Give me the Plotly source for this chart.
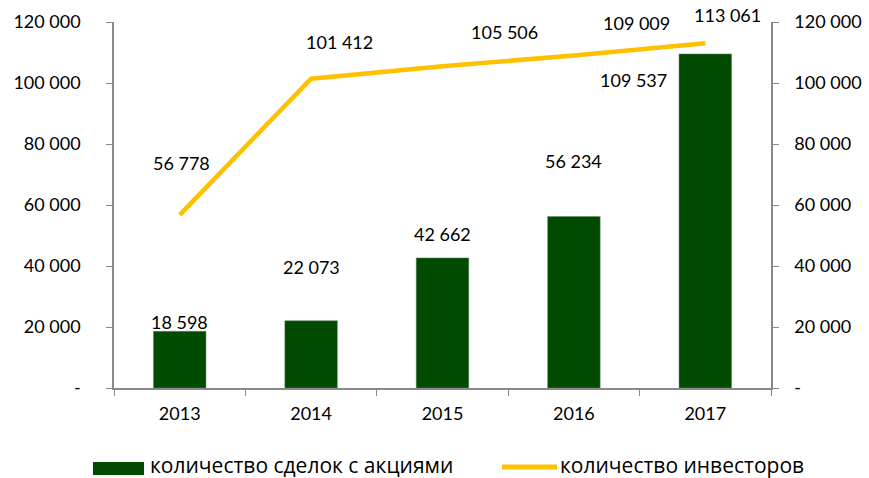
import plotly.graph_objects as go

years = ["2013", "2014", "2015", "2016", "2017"]
deals = [18598, 22073, 42662, 56234, 109537]
investors = [56778, 101412, 105506, 109009, 113061]
deal_labels = ["18 598", "22 073", "42 662", "56 234", "109 537"]
inv_labels = ["56 778", "101 412", "105 506", "109 009", "113 061"]
tick_vals = [0, 20000, 40000, 60000, 80000, 100000, 120000]
tick_text = ["-", "20 000", "40 000", "60 000", "80 000", "100 000", "120 000"]
names = ["количество сделок с акциями", "количество инвесторов"]

FONT = "Lato"
FS = 18
LEG_FONT = dict(size=21, family="Open Sans", color="black")
GREEN = "#004B00"
GOLD = "#FFC000"

fig = go.Figure()
fig.add_trace(go.Bar(x=years, y=deals, name=names[0],
                     marker=dict(color=GREEN, line=dict(color="#6a8a6a", width=0.5)),
                     width=0.4))
fig.add_trace(go.Scatter(x=years, y=investors, name=names[1], yaxis="y2",
                         mode="lines", line=dict(color=GOLD, width=4.5)))

# label offsets (pixels) to match reference placement
deal_shift = [(0, 9), (0, 54), (0, 24), (0, 55), (-72, -26)]
inv_shift = [(2, 52), (28, 37), (62, 34), (63, 33), (22, 28)]
for i in range(len(years)):
    fig.add_annotation(x=i, y=deals[i], text=deal_labels[i], showarrow=False,
                       xshift=deal_shift[i][0], yshift=deal_shift[i][1],
                       font=dict(size=FS, color="black", family=FONT), yref="y")
    fig.add_annotation(x=i, y=investors[i], text=inv_labels[i], showarrow=False,
                       xshift=inv_shift[i][0], yshift=inv_shift[i][1],
                       font=dict(size=FS, color="black", family=FONT), yref="y2")

# manual legend (wide swatches like the reference)
fig.add_shape(type="rect", xref="paper", yref="paper", x0=-0.032, x1=0.0457,
              y0=-0.2377, y1=-0.2022, fillcolor=GREEN, line=dict(width=0))
fig.add_annotation(xref="paper", yref="paper", x=0.0518, y=-0.2104, text=names[0],
                   showarrow=False, xanchor="left", yanchor="middle", font=LEG_FONT)
fig.add_shape(type="line", xref="paper", yref="paper", x0=0.5906, x1=0.6743,
              y0=-0.2158, y1=-0.2158, line=dict(color=GOLD, width=5))
fig.add_annotation(xref="paper", yref="paper", x=0.6758, y=-0.2104, text=names[1],
                   showarrow=False, xanchor="left", yanchor="middle", font=LEG_FONT)

axis_common = dict(range=[0, 120000], tickvals=tick_vals, ticktext=tick_text,
                   showgrid=False, zeroline=False, showline=True, linecolor="#898989",
                   linewidth=1.5, ticks="outside", ticklen=6, tickcolor="#898989",
                   tickfont=dict(size=FS, color="black", family=FONT), automargin=False)
fig.update_layout(
    width=869, height=478,
    margin=dict(l=114, r=98, t=22, b=90, autoexpand=False),
    paper_bgcolor="white", plot_bgcolor="white",
    font=dict(family=FONT, size=FS, color="black"),
    xaxis=dict(type="category", categoryorder="array", categoryarray=years,
               range=[-0.5, len(years) - 0.5],
               showline=True, linecolor="#898989", linewidth=1.5,
               ticks="outside", ticklen=6, tickcolor="#898989", tickson="boundaries",
               showgrid=False, tickangle=0, automargin=False,
               tickfont=dict(size=FS, color="black", family=FONT), ticklabelstandoff=9),
    yaxis=dict(**axis_common, ticklabelstandoff=22),
    yaxis2=dict(**axis_common, overlaying="y", side="right", ticklabelstandoff=12),
    bargap=0.6,
    showlegend=False,
)
fig.write_html("out.html")
